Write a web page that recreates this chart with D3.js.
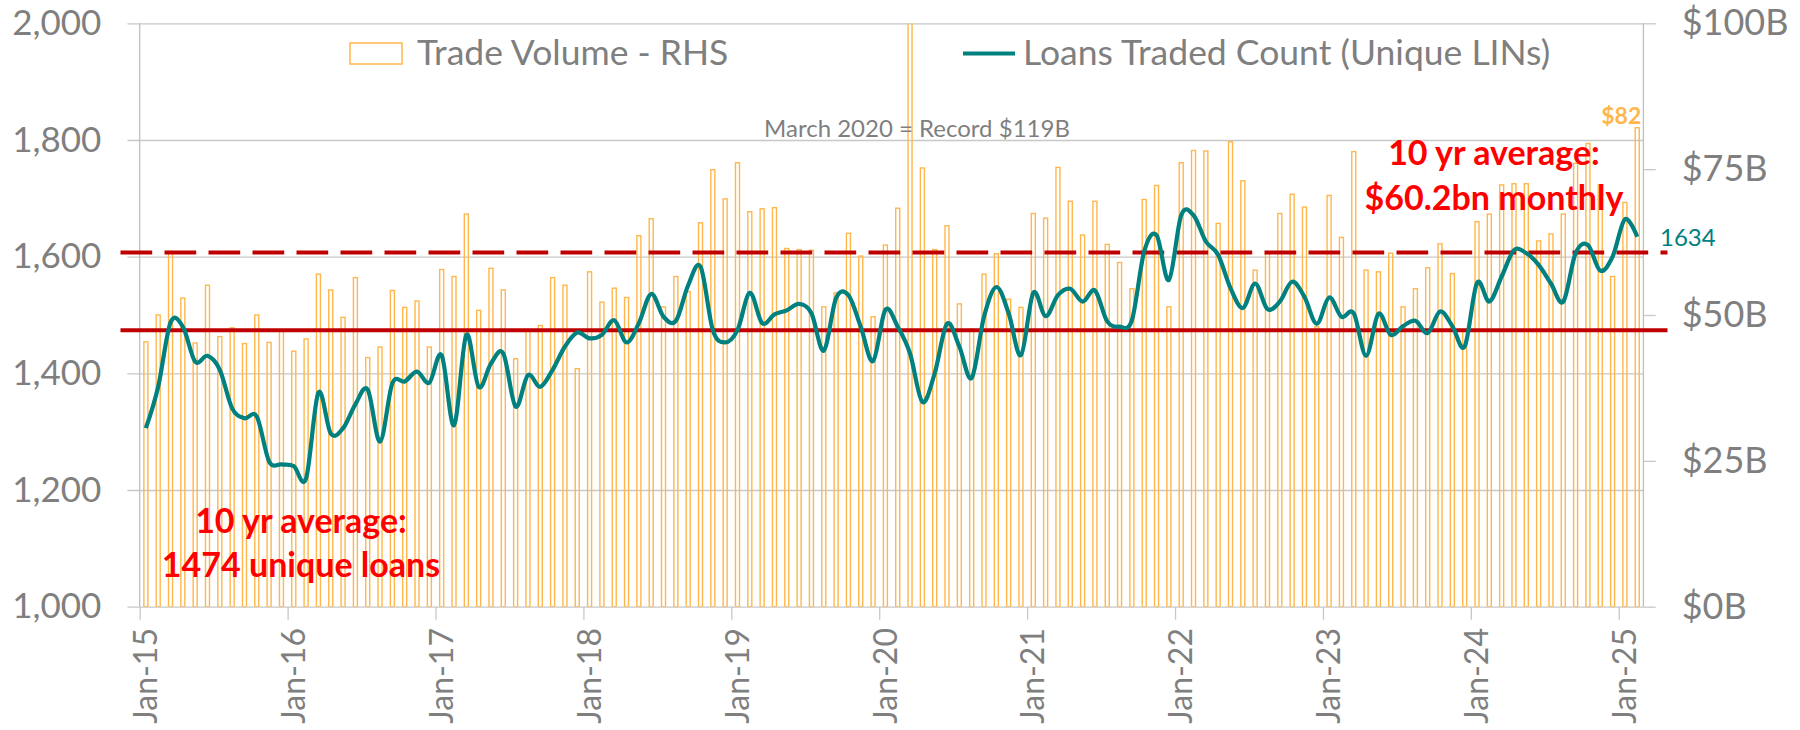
<!DOCTYPE html>
<html>
  <head>
    <script src="https://cdnjs.cloudflare.com/ajax/libs/d3/7.8.5/d3.min.js"></script>
    <meta charset="utf-8">
    <title>Loans Traded</title>
    <style>
      body { margin: 0; background: #fff; }
      text { font-family: Lato, "Open Sans", sans-serif; }
    </style>
  </head>
  <body>
    <script>
      // data, Jan-15 .. Feb-25 (monthly)
      var monthNames = ["Jan", "Feb", "Mar", "Apr", "May", "Jun", "Jul", "Aug", "Sep", "Oct", "Nov", "Dec"];
      var years = ["15", "16", "17", "18", "19", "20", "21", "22", "23", "24", "25"];

      // trade volume, $B (RHS)
      var volume = [
        45.4, 50.0, 60.9, 52.9, 45.2, 55.1, 46.3, 47.8, 45.1, 50.0, 45.3, 47.4,
        43.8, 45.9, 57.0, 54.3, 49.6, 56.4, 42.7, 44.5, 54.2, 51.3, 52.4, 44.5,
        57.8, 56.6, 67.3, 50.8, 58.0, 54.3, 42.5, 47.4, 48.2, 56.4, 55.1, 40.8,
        57.4, 52.2, 54.6, 53.0, 63.6, 66.5, 51.4, 56.6, 54.0, 65.8, 74.9, 69.9,
        76.1, 67.7, 68.2, 68.4, 61.4, 61.2, 61.1, 51.4, 53.8, 64.0, 60.1, 49.7,
        62.0, 68.3, 119, 75.2, 61.2, 65.3, 51.9, 47.6, 57.0, 60.5, 52.7, 51.3,
        67.4, 66.6, 75.3, 69.5, 63.7, 69.5, 62.1, 59.0, 54.5, 69.8, 72.2, 51.4,
        76.1, 78.2, 78.1, 65.7, 79.7, 73.0, 57.7, 60.5, 67.4, 70.7, 68.5, 48.0,
        70.5, 63.3, 78.0, 57.7, 57.4, 60.6, 51.4, 54.5, 58.1, 62.2, 57.1, 47.5,
        66.0, 67.3, 72.3, 72.5, 72.5, 62.7, 63.9, 67.3, 76.0, 79.4, 72.3, 56.6,
        69.3, 82.1
      ];

      // loans traded count, unique LINs (LHS)
      var loans = [
        1306, 1377, 1487, 1480, 1420, 1430, 1406, 1340, 1323, 1326, 1249, 1244,
        1241, 1220, 1367, 1297, 1306, 1347, 1372, 1283, 1383, 1386, 1403, 1384,
        1431, 1311, 1466, 1377, 1417, 1434, 1343, 1397, 1377, 1406, 1446, 1470,
        1460, 1466, 1491, 1453, 1486, 1536, 1497, 1490, 1551, 1583, 1474, 1453,
        1474, 1538, 1486, 1501, 1508, 1519, 1503, 1439, 1529, 1534, 1480, 1421,
        1509, 1480, 1434, 1351, 1400, 1485, 1446, 1392, 1497, 1548, 1503, 1431,
        1538, 1498, 1534, 1545, 1523, 1542, 1489, 1480, 1491, 1609, 1637, 1560,
        1671, 1671, 1626, 1603, 1546, 1512, 1554, 1510, 1523, 1557, 1531, 1485,
        1530, 1497, 1503, 1430, 1502, 1466, 1481, 1490, 1469, 1506, 1481, 1446,
        1555, 1523, 1566, 1611, 1606, 1586, 1554, 1523, 1606, 1620, 1576, 1600,
        1664, 1634
      ];

      var leftTicks = [1000, 1200, 1400, 1600, 1800, 2000];
      var rightTicks = [0, 25, 50, 75, 100];
      var xTickLabels = ["Jan-15", "Jan-16", "Jan-17", "Jan-18", "Jan-19", "Jan-20",
                         "Jan-21", "Jan-22", "Jan-23", "Jan-24", "Jan-25"];

      var avgLoans = 1474;      // solid line, LHS
      var avgVolumeLine = 60.7; // dashed line as drawn, RHS

      var months = [];
      years.forEach(function (yy) {
        monthNames.forEach(function (m) { months.push(m + "-" + yy); });
      });
      months = months.slice(0, volume.length);

      var grey = "#7f7f7f", orange = "#ffb74d", teal = "#00807f", darkRed = "#c00000";
      var pLeft = 139.7, pRight = 1643.4, pTop = 23.3, pBottom = 606.7;

      var svg = d3.select("body").append("svg")
                  .attr("width", 1800)
                  .attr("height", 730);

      var yL = d3.scaleLinear().domain([1000, 2000]).range([pBottom, pTop]);
      var yR = d3.scaleLinear().domain([0, 100]).range([pBottom, pTop]);
      var xb = d3.scaleBand().domain(months).range([pLeft, pRight])
                 .paddingInner(0.675).paddingOuter(0.3375);
      var xEdge = d3.scaleLinear().domain([0, months.length]).range([pLeft, pRight]);
      var xc = function (m) { return xb(m) + xb.bandwidth() / 2; };

      svg.append("clipPath").attr("id", "plot")
         .append("rect").attr("x", pLeft).attr("y", pTop)
         .attr("width", pRight - pLeft).attr("height", pBottom - pTop);

      // gridlines + left labels
      var gl = svg.append("g")
                  .attr("transform", "translate(127.4,0)")
                  .call(d3.axisLeft(yL).tickValues(leftTicks).tickSize(-(pRight - 127.4))
                          .tickPadding(26).tickFormat(d3.format(",")));
      gl.select(".domain").remove();
      gl.selectAll("line").attr("stroke", "#c8c8c8").attr("stroke-width", 1.3);
      gl.selectAll("text").attr("fill", grey).style("font-size", "35px");

      // right axis
      var gr = svg.append("g")
                  .attr("transform", "translate(" + pRight + ",0)")
                  .call(d3.axisRight(yR).tickValues(rightTicks).tickSize(12.3)
                          .tickPadding(26).tickFormat(function (d) { return "$" + d + "B"; }));
      gr.select(".domain").remove();
      gr.selectAll("line").attr("stroke", "#c8c8c8").attr("stroke-width", 1.3);
      gr.selectAll("text").attr("fill", grey).style("font-size", "36px");

      // bottom ticks
      var gx = svg.append("g")
                  .attr("transform", "translate(0," + pBottom + ")")
                  .call(d3.axisBottom(xEdge).tickValues(d3.range(0, months.length, 12))
                          .tickSize(13).tickFormat(""));
      gx.select(".domain").remove();
      gx.selectAll("line").attr("stroke", "#c8c8c8").attr("stroke-width", 1.3);

      svg.selectAll(".xlab")
         .data(xTickLabels)
         .enter()
         .append("text")
         .attr("class", "xlab")
         .attr("transform", function (d) { return "translate(" + xc(d) + ",628) rotate(-90)"; })
         .attr("text-anchor", "end")
         .attr("dy", "0.35em")
         .attr("fill", grey)
         .style("font-size", "32px")
         .text(function (d) { return d; });

      // vertical axis lines
      [pLeft, pRight].forEach(function (x) {
        svg.append("line").attr("x1", x).attr("x2", x).attr("y1", pTop).attr("y2", pBottom)
           .attr("stroke", "#bfbfbf").attr("stroke-width", 1.3);
      });

      // volume bars
      svg.append("g")
         .attr("clip-path", "url(#plot)")
         .selectAll("rect")
         .data(volume)
         .enter()
         .append("rect")
         .attr("x", function (d, i) { return xb(months[i]); })
         .attr("y", function (d) { return yR(d); })
         .attr("width", xb.bandwidth())
         .attr("height", function (d) { return pBottom - yR(d); })
         .attr("fill", "none")
         .attr("stroke", orange)
         .attr("stroke-width", 1.4);

      // average lines
      svg.append("line")
         .attr("x1", 120.5).attr("x2", 1667.5)
         .attr("y1", yR(avgVolumeLine)).attr("y2", yR(avgVolumeLine))
         .attr("stroke", darkRed).attr("stroke-width", 4)
         .attr("stroke-dasharray", "31.7,12.3");
      svg.append("line")
         .attr("x1", 120.5).attr("x2", 1667.5)
         .attr("y1", yL(avgLoans)).attr("y2", yL(avgLoans))
         .attr("stroke", darkRed).attr("stroke-width", 4);

      // loans line
      var line = d3.line()
                   .x(function (d, i) { return xc(months[i]); })
                   .y(function (d) { return yL(d); })
                   .curve(d3.curveCatmullRom.alpha(0));
      svg.append("path")
         .datum(loans)
         .attr("d", line)
         .attr("fill", "none")
         .attr("stroke", teal)
         .attr("stroke-width", 4.2)
         .attr("stroke-linejoin", "round");

      // legend
      svg.append("rect").attr("x", 350).attr("y", 43).attr("width", 52).attr("height", 21)
         .attr("fill", "none").attr("stroke", orange).attr("stroke-width", 1.5);
      svg.append("text").attr("x", 417).attr("y", 65).attr("fill", grey)
         .style("font-size", "35.5px").text("Trade Volume - RHS");
      svg.append("line").attr("x1", 963).attr("x2", 1015).attr("y1", 53.5).attr("y2", 53.5)
         .attr("stroke", teal).attr("stroke-width", 4);
      svg.append("text").attr("x", 1023).attr("y", 65).attr("fill", grey)
         .style("font-size", "35.5px").text("Loans Traded Count (Unique LINs)");

      // annotations
      svg.append("text").attr("x", 917).attr("y", 137).attr("text-anchor", "middle")
         .attr("fill", grey).style("font-size", "24px").text("March 2020 = Record $119B");

      var last = months.length - 1;
      svg.append("text").attr("x", xc(months[last]) + 4).attr("y", 124).attr("text-anchor", "end")
         .attr("fill", orange).style("font-size", "23px").style("font-weight", "bold")
         .text("$" + Math.round(volume[last]));
      svg.append("text").attr("x", 1660).attr("y", 246).attr("fill", teal)
         .style("font-size", "24px").text(loans[last]);

      var red = [
        { x: 1494, y: 165, t: "10 yr average:" },
        { x: 1494, y: 210, t: "$60.2bn monthly" },
        { x: 301, y: 533, t: "10 yr average:" },
        { x: 301, y: 577, t: avgLoans + " unique loans" }
      ];
      svg.selectAll(".red")
         .data(red)
         .enter()
         .append("text")
         .attr("class", "red")
         .attr("x", function (d) { return d.x; })
         .attr("y", function (d) { return d.y; })
         .attr("text-anchor", "middle")
         .attr("fill", "#ff0000")
         .style("font-size", "34px")
         .style("font-weight", "bold")
         .text(function (d) { return d.t; });
    </script>
  </body>
</html>
